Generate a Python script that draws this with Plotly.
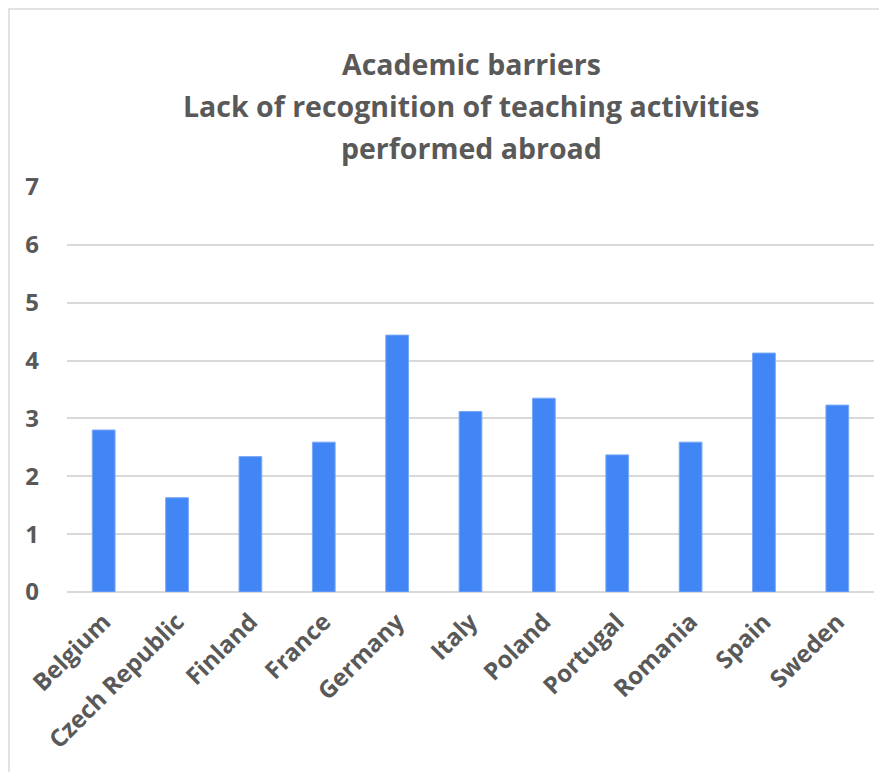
import plotly.graph_objects as go

countries = ["Belgium", "Czech Republic", "Finland", "France", "Germany", "Italy",
             "Poland", "Portugal", "Romania", "Spain", "Sweden"]
values = [2.80, 1.63, 2.34, 2.59, 4.44, 3.12, 3.35, 2.37, 2.59, 4.13, 3.23]
title_lines = ["Academic barriers",
               "Lack of recognition of teaching activities",
               "performed abroad"]
y_ticks = [0, 1, 2, 3, 4, 5, 6, 7]

OFF = 8  # page offset of the figure
W, H = 887, 772
# target plot area in page pixels: x 67..874, y 186.7..591.7
L = 67 - OFF
R = W + OFF - 874
T = 187 - OFF
B = H + OFF - 592
plot_h = H - T - B
plot_w = W - L - R

def py_to_paper(py):  # page pixel -> paper
    return (H - B + OFF - py) / plot_h

def px_to_paper(px):
    return (px - OFF - L) / plot_w

FONT = "Open Sans"
GRAY = "#595959"

fig = go.Figure(go.Bar(
    x=countries, y=values,
    marker=dict(color="#4285F4", line=dict(color="#7aa9f7", width=1)),
))

annotations = []
for line, py in zip(title_lines, [64, 106, 148]):
    annotations.append(dict(
        text=f"<b>{line}</b>", x=px_to_paper(471), xref="paper", y=py_to_paper(py), yref="paper",
        xanchor="center", yanchor="middle", showarrow=False,
        font=dict(family=FONT, size=28.5, color=GRAY)))

fig.update_layout(
    width=W, height=H,
    margin=dict(l=L, r=R, t=T, b=B),
    paper_bgcolor="white", plot_bgcolor="white",
    bargap=0.69,
    showlegend=False,
    annotations=annotations,
    shapes=[dict(type="rect", xref="paper", yref="paper",
                 x0=px_to_paper(OFF + 1), x1=px_to_paper(W + 60),
                 y0=py_to_paper(H + 60), y1=py_to_paper(OFF + 1),
                 line=dict(color="#d9d9d9", width=1.5), layer="below")],
    xaxis=dict(tickangle=-45, tickfont=dict(family=FONT, size=24, color=GRAY),
               showgrid=False, showline=False, ticks="", ticklabelstandoff=10),
    yaxis=dict(range=[0, 7], tickvals=y_ticks, showgrid=True, gridcolor="#d9d9d9",
               gridwidth=1.5, zeroline=True, zerolinecolor="#d9d9d9", zerolinewidth=1.5,
               tickfont=dict(family=FONT, size=24, color=GRAY), ticklabelstandoff=27,
               showline=False, ticks=""),
)
fig.update_xaxes(tickfont_weight="bold")
fig.update_yaxes(tickfont_weight="bold")

fig.write_html("out.html")
